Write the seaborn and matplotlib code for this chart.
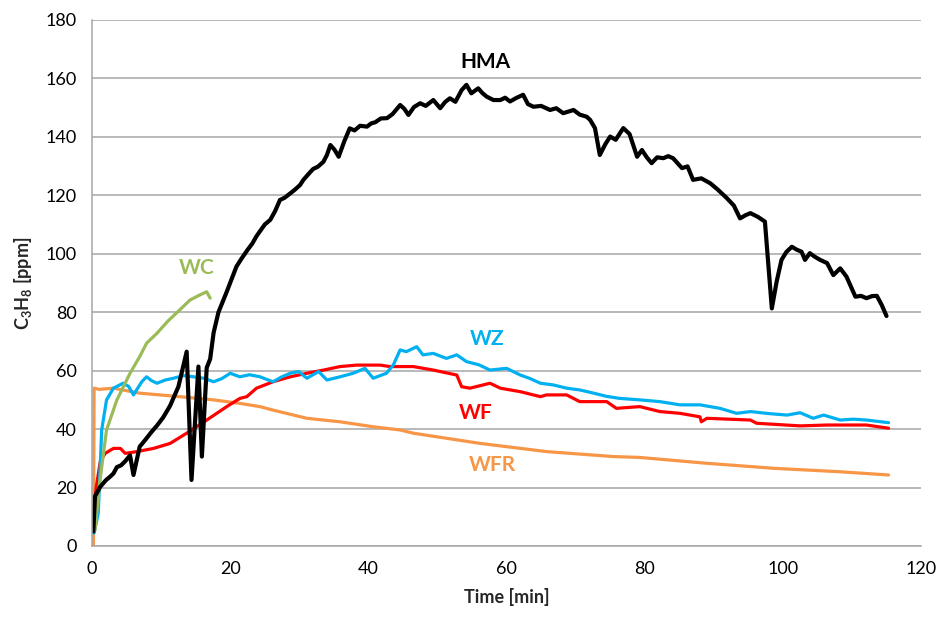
import matplotlib
matplotlib.use("Agg")
import matplotlib.pyplot as plt
import seaborn as sns
import pandas as pd

# ---------------- data ----------------
hma_x = [0.15, 0.19, 0.43, 1.2, 2.0, 2.6, 3.1, 3.6, 4.2, 4.8, 5.5, 6.0, 6.9, 7.6, 8.6, 9.4, 10.3, 11.3,
         12.5, 13.7, 14.4, 15.4, 15.9, 16.6, 17.1, 17.6, 18.3, 19.5, 20.9, 21.6, 22.5, 23.2, 23.8,
         24.4, 25.0, 25.8, 26.5, 27.2, 27.9, 28.7, 29.3, 30.1, 30.6, 31.3, 32.0, 32.7, 33.5, 34.0,
         34.5, 35.1, 35.7, 36.5, 37.3, 38.0, 38.8, 39.8, 40.4, 41.0, 41.8, 42.7, 43.5, 44.6, 45.2,
         45.8, 46.6, 47.5, 48.3, 49.4, 50.4, 51.1, 51.8, 52.6, 53.5, 54.2, 54.9, 55.9, 56.5, 57.1,
         58.1, 59.1, 59.8, 60.5, 61.4, 62.4, 63.1, 63.9, 65.0, 66.3, 67.2, 68.2, 69.7, 70.6, 71.6,
         72.1, 72.8, 73.5, 74.3, 75.0, 75.8, 76.9, 77.8, 78.9, 79.6, 80.3, 81.0, 81.8, 82.7, 83.4,
         84.1, 85.4, 86.2, 87.0, 88.2, 89.5, 90.6, 91.9, 92.9, 93.8, 94.6, 95.3, 96.4, 97.4, 98.4,
         99.1, 99.8, 100.5, 101.3, 102.0, 102.7, 103.2, 103.9, 104.6, 105.4, 106.4, 107.3, 108.3,
         109.2, 109.8, 110.5, 111.3, 112.1, 112.9, 113.6, 114.3, 115.0]
hma_y = [5.0, 5.0, 17.0, 20.3, 22.5, 23.7, 24.8, 27.0, 27.6, 29.0, 31.0, 24.3, 34.0, 36.0, 39.0, 41.2, 44.0, 48.0,
         54.5, 66.5, 22.6, 61.4, 30.6, 61.0, 64.0, 73.0, 80.0, 87.0, 95.6, 98.2, 101.3, 103.5, 106.0,
         108.0, 110.0, 111.6, 114.6, 118.4, 119.2, 120.7, 121.8, 123.5, 125.3, 127.2, 129.0, 129.8, 131.5, 133.8,
         137.2, 135.6, 133.2, 138.4, 142.9, 142.2, 143.8, 143.5, 144.6, 145.0, 146.3, 146.4, 147.8, 150.9, 149.6,
         147.5, 150.2, 151.5, 150.6, 152.6, 149.8, 151.9, 153.2, 152.0, 156.0, 157.8, 154.9, 156.6, 155.0, 153.8,
         152.6, 152.6, 153.4, 152.1, 153.3, 154.4, 151.2, 150.3, 150.6, 149.2, 149.8, 148.1, 149.2, 147.6, 146.9,
         145.8, 143.0, 133.8, 137.5, 140.1, 139.0, 143.0, 141.0, 133.2, 135.5, 133.0, 131.0, 133.0, 132.7, 133.4,
         132.7, 129.3, 129.9, 125.3, 125.8, 124.1, 121.9, 119.0, 116.5, 112.1, 113.2, 113.9, 112.6, 111.0, 81.3,
         90.5, 97.9, 100.6, 102.4, 101.4, 100.7, 97.9, 100.2, 99.0, 97.9, 96.8, 92.7, 95.0,
         92.2, 89.0, 85.3, 85.6, 84.8, 85.5, 85.6, 82.5, 78.7]

wc_x = [0.2, 0.43, 0.8, 1.16, 2.1, 3.6, 5.5, 6.9, 7.9, 9.4, 11.0, 12.7, 14.2, 15.6, 16.6, 17.1]
wc_y = [5.0, 5.5, 14.0, 22.6, 39.7, 50.0, 59.1, 64.8, 69.4, 72.8, 77.0, 80.8, 84.2, 85.9, 87.0, 84.8]

wz_x = [0.3, 0.9, 1.4, 2.1, 3.1, 4.5, 5.3, 6.0, 7.2, 7.9, 8.6, 9.4, 10.6, 11.8, 13.2, 14.7, 16.2, 17.6,
        18.8, 20.0, 21.4, 22.8, 24.3, 26.2, 27.4, 28.7, 29.9, 31.1, 32.8, 34.0, 35.9, 37.8, 39.5,
        40.7, 42.6, 43.6, 44.6, 45.5, 47.0, 47.9, 49.4, 51.3, 52.8, 54.2, 56.0, 57.6, 60.0, 62.0,
        63.4, 64.9, 66.8, 68.7, 70.6, 72.6, 74.5, 76.4, 79.3, 82.2, 85.1, 88.0, 90.9, 93.3, 95.3,
        98.0, 100.6, 102.5, 104.4, 105.9, 108.3, 110.2, 112.1, 115.3]
wz_y = [4.4, 11.2, 39.7, 50.0, 54.0, 55.7, 54.6, 51.7, 56.2, 57.9, 56.6, 55.7, 56.8, 57.4, 58.3, 57.9, 57.4, 56.2,
        57.3, 59.1, 57.9, 58.6, 57.9, 56.2, 57.8, 59.1, 59.7, 57.4, 59.7, 56.8, 57.9, 59.1, 60.8,
        57.4, 59.1, 61.9, 67.1, 66.5, 68.2, 65.4, 65.9, 64.2, 65.4, 63.1, 62.0, 60.2, 60.8, 58.5,
        57.3, 55.7, 55.1, 54.0, 53.4, 52.3, 51.2, 50.5, 50.0, 49.4, 48.3, 48.3, 47.1, 45.4, 46.0,
        45.3, 44.8, 45.6, 43.7, 44.8, 43.1, 43.4, 43.1, 42.2]

wf_x = [0.2, 0.6, 1.2, 1.9, 3.1, 4.1, 4.8, 6.5, 8.9, 11.3, 13.7, 16.6, 19.5, 21.4, 22.4, 23.8, 26.2,
        28.7, 31.1, 33.5, 35.9, 38.3, 40.7, 41.7, 43.1, 44.1, 46.5, 49.4, 52.8, 53.5, 54.7, 57.6,
        59.1, 62.0, 64.9, 65.8, 68.7, 70.6, 74.5, 75.9, 79.3, 80.3, 82.2, 85.1, 88.0, 88.2, 89.0,
        95.3, 96.2, 102.5, 106.4, 112.1, 115.3]
wf_y = [8.9, 20.0, 29.0, 31.7, 33.4, 33.4, 31.7, 32.3, 33.4, 35.1, 38.6, 43.1, 47.7, 50.5, 51.1, 54.0, 56.2,
        57.9, 59.1, 60.2, 61.4, 61.9, 61.9, 61.9, 61.4, 61.4, 61.4, 60.2, 58.5, 54.5, 54.0, 55.7,
        54.0, 52.8, 51.1, 51.7, 51.7, 49.4, 49.4, 47.1, 47.7, 47.1, 46.0, 45.4, 44.2, 42.5, 43.7,
        43.1, 42.0, 41.1, 41.4, 41.4, 40.3]

wfr_x = [0.2, 0.3, 1.0, 3.1, 6.9, 12.7, 17.6, 21.4, 24.3, 26.2, 31.1, 35.9, 40.7, 44.6, 46.5, 56.2,
         65.8, 75.5, 79.3, 89.0, 98.6, 108.3, 115.3]
wfr_y = [0.0, 54.0, 53.6, 54.0, 52.3, 51.1, 50.0, 48.8, 47.7, 46.5, 43.7, 42.5, 40.8, 39.7, 38.6, 35.1,
         32.3, 30.6, 30.3, 28.3, 26.6, 25.4, 24.3]

series_names = ["HMA", "WC", "WZ", "WF", "WFR"]
series_colors = {"HMA": "#000000", "WC": "#9BBB59", "WZ": "#00B0F0", "WF": "#FF0000", "WFR": "#F79646"}
label_pos = {"HMA": (57.0, 165.5), "WC": (15.2, 95.0), "WZ": (57.2, 71.0), "WF": (55.6, 45.5), "WFR": (57.9, 27.7)}

x_ticks = [0, 20, 40, 60, 80, 100, 120]
y_ticks = [0, 20, 40, 60, 80, 100, 120, 140, 160, 180]

# ---------------- plotting ----------------
sns.set_theme(style="white")
plt.rcParams["font.family"] = ["Lato", "DejaVu Sans"]
plt.rcParams["mathtext.fontset"] = "custom"
plt.rcParams["mathtext.rm"] = "Lato:bold"
plt.rcParams["mathtext.bf"] = "Lato:bold"

frames = []
for name, xs, ys in [("HMA", hma_x, hma_y), ("WC", wc_x, wc_y), ("WZ", wz_x, wz_y),
                     ("WF", wf_x, wf_y), ("WFR", wfr_x, wfr_y)]:
    frames.append(pd.DataFrame({"time": xs, "ppm": ys, "series": name}))
df = pd.concat(frames, ignore_index=True)

fig = plt.figure(figsize=(9.41, 6.24), dpi=100)
ax = fig.add_axes([0.0978, 0.125, 0.881, 0.843])

draw_order = ["WFR", "WF", "WZ", "WC", "HMA"]
for name in draw_order:
    sub = df[df["series"] == name]
    sns.lineplot(data=sub, x="time", y="ppm", ax=ax, color=series_colors[name],
                 lw=3.0 if name == "HMA" else 2.3, sort=False, estimator=None, legend=False)

for name in series_names:
    lx, ly = label_pos[name]
    ax.text(lx, ly, name, color=series_colors[name], fontsize=15, fontweight="bold",
            ha="center", va="center")

ax.set_xlim(0, 120)
ax.set_ylim(0, 180)
ax.set_xticks(x_ticks)
ax.set_yticks(y_ticks)
ax.tick_params(axis="both", labelsize=13, labelcolor="#000000", length=5, width=1,
               direction="out", pad=6, color="#A6A6A6")
ax.yaxis.grid(True, color="#A6A6A6", lw=1.1)
ax.xaxis.grid(False)
ax.set_axisbelow(True)
for side in ["top", "right"]:
    ax.spines[side].set_visible(False)
for side in ["left", "bottom"]:
    ax.spines[side].set_color("#A6A6A6")
    ax.spines[side].set_linewidth(1.1)

ax.set_xlabel("Time [min]", fontsize=13, fontweight="bold", labelpad=8)
ax.set_ylabel(r"$\mathregular{C_3H_8}$ [ppm]", fontsize=13, fontweight="bold", labelpad=8)

fig.savefig("out.png", dpi=100)
